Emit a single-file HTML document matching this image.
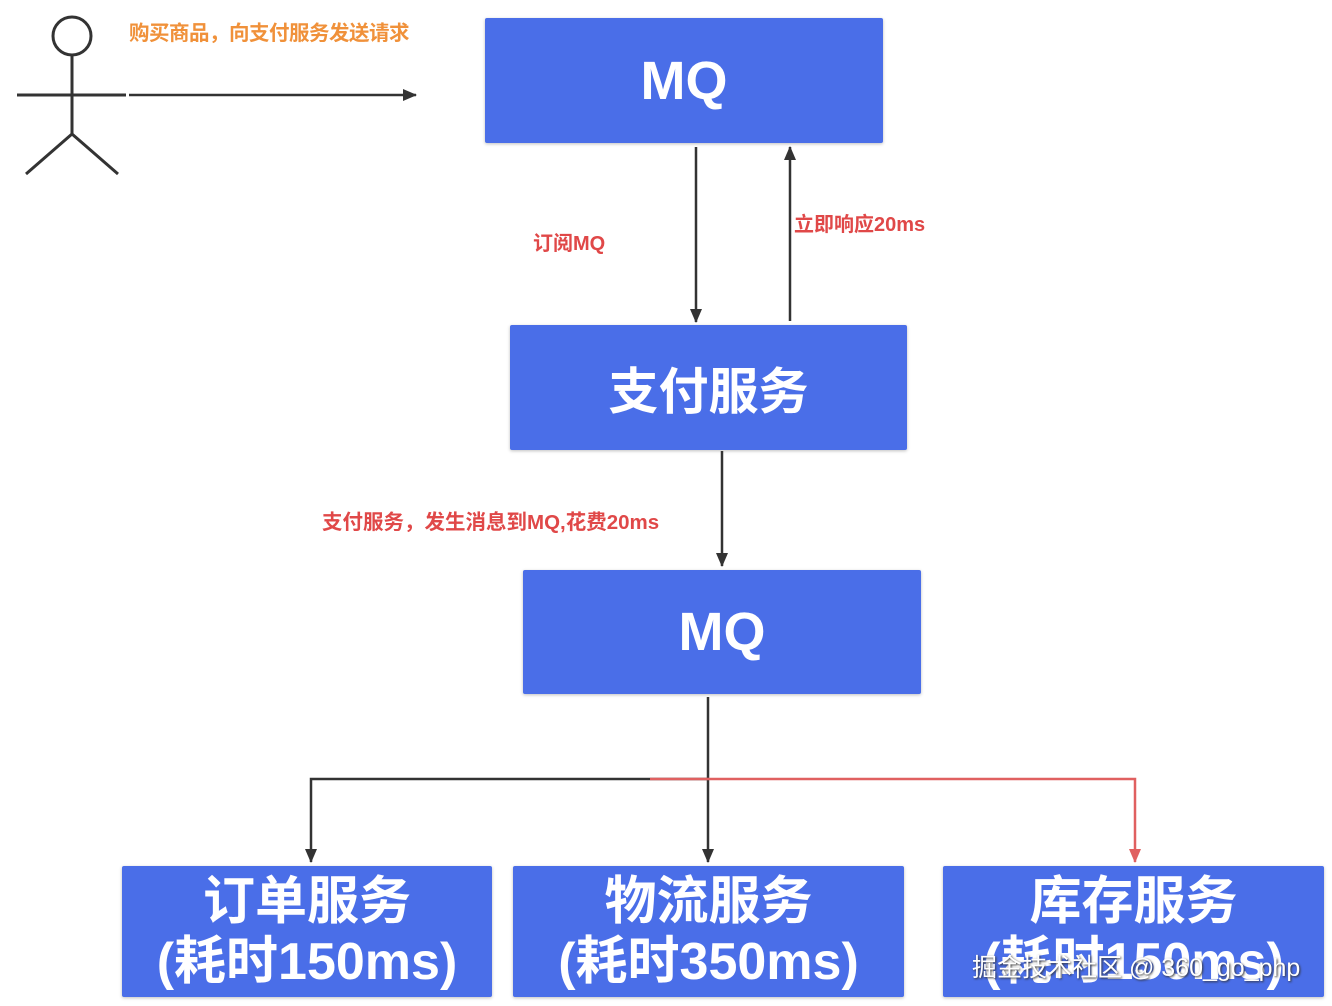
<!DOCTYPE html>
<html><head><meta charset="utf-8"><style>
body{margin:0;width:1332px;height:1006px;background:#fff;position:relative;overflow:hidden;font-family:"Liberation Sans","Noto Sans CJK SC",sans-serif}
.b{position:absolute;background:#4a6ee8;color:#fff;font-weight:bold;display:flex;align-items:center;justify-content:center;text-align:center;border-radius:2px;box-shadow:0 1px 3px rgba(0,0,0,.25)}
.t{position:absolute;font-weight:bold;font-size:20px;white-space:nowrap}
svg{position:absolute;left:0;top:0}
</style></head><body>
<div class="b" style="left:485px;top:18px;width:398px;height:125px;font-size:54px">MQ</div>
<div class="b" style="left:510px;top:325px;width:397px;height:125px;font-size:50px">支付服务</div>
<div class="b" style="left:523px;top:570px;width:398px;height:124px;font-size:54px">MQ</div>
<div class="b" style="left:122px;top:866px;width:370px;height:131px;font-size:52px;line-height:60px">订单服务<br>(耗时150ms)</div>
<div class="b" style="left:513px;top:866px;width:391px;height:131px;font-size:52px;line-height:60px">物流服务<br>(耗时350ms)</div>
<div class="b" style="left:943px;top:866px;width:381px;height:131px;font-size:52px;line-height:60px">库存服务<br>(耗时150ms)</div>
<div class="t" style="left:972px;top:948px;font-size:25px;font-weight:normal;color:#fff;text-shadow:1px 1px 2px #333">掘金技术社区 @ 360_go_php</div>
<div class="t" style="left:129px;top:16px;color:#f0913a;font-size:20.5px;letter-spacing:-0.5px">购买商品，向支付服务发送请求</div>
<div class="t" style="left:533px;top:227px;color:#e04848">订阅MQ</div>
<div class="t" style="left:794px;top:208px;color:#e04848">立即响应20ms</div>
<div class="t" style="left:322px;top:505px;color:#e04848;font-size:20.5px">支付服务，发生消息到MQ,花费20ms</div>
<svg width="1332" height="1006">
<defs><marker id="a" markerWidth="14" markerHeight="14" refX="13" refY="6" orient="auto" markerUnits="userSpaceOnUse"><path d="M0,0L14,6L0,12z" fill="#333"/></marker>
<marker id="r" markerWidth="14" markerHeight="14" refX="13" refY="6" orient="auto" markerUnits="userSpaceOnUse"><path d="M0,0L14,6L0,12z" fill="#e06060"/></marker></defs>
<g stroke="#333" stroke-width="3" fill="none">
<circle cx="72" cy="36" r="19"/>
<path d="M72 55V134M26 174L72 134L118 174M17 95H126"/>
</g>
<g stroke="#333" stroke-width="2.5" fill="none">
<path d="M129 95H416" marker-end="url(#a)"/>
<path d="M696 147V322" marker-end="url(#a)"/>
<path d="M790 321V147" marker-end="url(#a)"/>
<path d="M722 451V566" marker-end="url(#a)"/>
<path d="M708 697V862" marker-end="url(#a)"/>
<path d="M708 779H311V862" marker-end="url(#a)"/>
</g>
<path d="M650 779H1135V862" stroke="#e06060" stroke-width="2.5" fill="none" marker-end="url(#r)"/>
</svg>
</body></html>
